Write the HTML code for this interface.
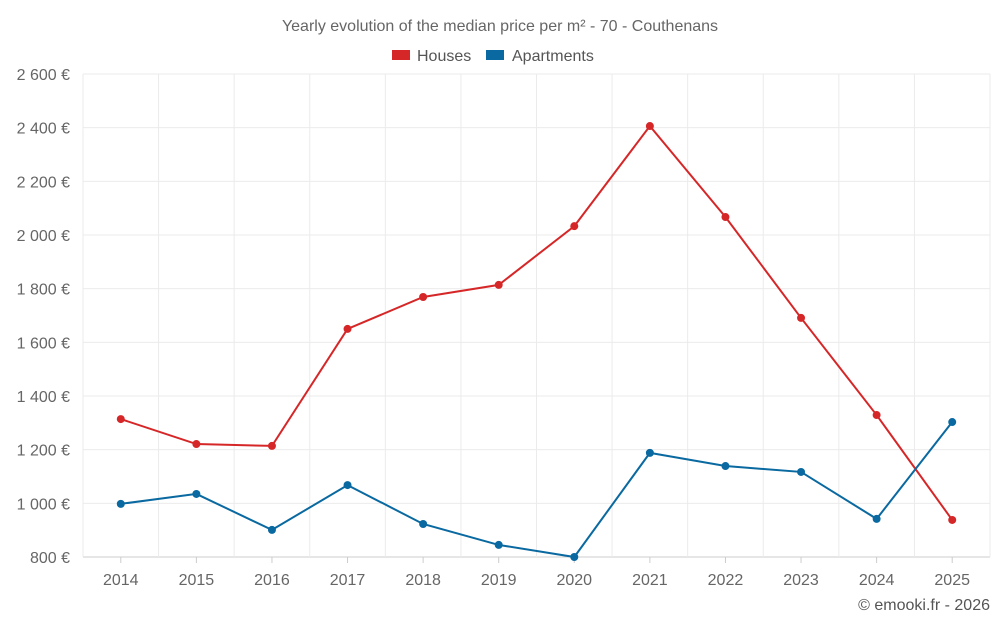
<!DOCTYPE html>
<html><head><meta charset="utf-8"><style>
body{margin:0;background:#fff;font-family:"Liberation Sans",sans-serif;}
svg text{font-family:"Liberation Sans",sans-serif;}
</style></head><body>
<svg id="chart" width="1000" height="625">
<text x="500" y="31" text-anchor="middle" font-size="16" fill="#666">Yearly evolution of the median price per m² - 70 - Couthenans</text>
<g>
<g><rect x="392" y="50" width="18" height="10" fill="#d62728"/><text x="417" y="61" font-size="16" fill="#555">Houses</text></g>
<g><rect x="486" y="50" width="18" height="10" fill="#0969a0"/><text x="512" y="61" font-size="16" fill="#555">Apartments</text></g>
</g>
<g id="grid"></g><g id="axes"></g><g id="series"></g>
<text x="990" y="610" text-anchor="end" font-size="16" fill="#555">© emooki.fr - 2026</text>
</svg>
<script>
const years=[2014,2015,2016,2017,2018,2019,2020,2021,2022,2023,2024,2025];
const houses=[1314,1221,1214,1650,1769,1814,2033,2406,2067,1691,1329,938];
const apartments=[998,1035,901,1068,923,845,800,1188,1139,1117,942,1303];
const yTicks=[800,1000,1200,1400,1600,1800,2000,2200,2400,2600];
const yTickLabels=["800 €","1 000 €","1 200 €","1 400 €","1 600 €","1 800 €","2 000 €","2 200 €","2 400 €","2 600 €"];
const L=83,R=990,T=74,B=557,NS="http://www.w3.org/2000/svg";
const bw=(R-L)/years.length;
function x(i){return L+bw*(i+0.5);}
function y(v){return B-(v-800)/(2600-800)*(B-T);}
function mk(tag,attrs,parent){const e=document.createElementNS(NS,tag);for(const k in attrs)e.setAttribute(k,attrs[k]);parent.appendChild(e);return e;}
const grid=document.getElementById('grid'),axes=document.getElementById('axes'),ser=document.getElementById('series');
yTicks.forEach((t,i)=>{
 const ln=mk('line',{x1:L,x2:R,y1:y(t),y2:y(t),stroke:i==0?'#ccc':'#ebebeb'},grid);
 
 
 const tx=mk('text',{x:70,y:y(t)+6,'text-anchor':'end','font-size':16,fill:'#666'},axes);
 tx.textContent=yTickLabels[i];
 
 
});
for(let i=0;i<=years.length;i++){
 const ln=mk('line',{x1:L+bw*i,x2:L+bw*i,y1:T,y2:B,stroke:'#ebebeb'},grid);
 
 
}
years.forEach((yr,i)=>{
 const tk=mk('line',{x1:x(i),x2:x(i),y1:B,y2:B+6,stroke:'#ccc'},axes);
 
 
 const tx=mk('text',{x:x(i),y:585,'text-anchor':'middle','font-size':16,fill:'#666'},axes);
 tx.textContent=yr;
 
 
});
function draw(data,color,name){
 const p=mk('polyline',{points:data.map((v,i)=>x(i)+','+y(v)).join(' '),fill:'none',stroke:color,'stroke-width':2},ser);
 
 
 data.forEach((v,i)=>{
  const c=mk('circle',{cx:x(i),cy:y(v),r:4,fill:color},ser);
  
  
 });
}
draw(houses,'#d62728','houses');
draw(apartments,'#0969a0','apartments');
</script>
</body></html>
